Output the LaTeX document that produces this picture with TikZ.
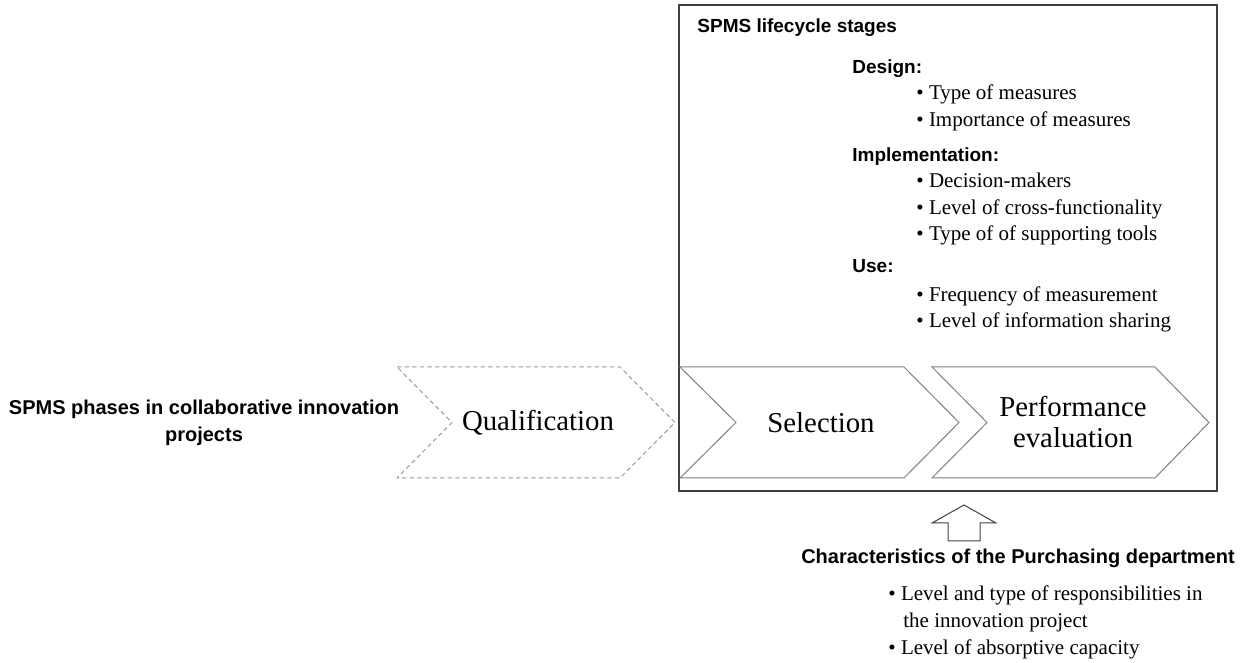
\documentclass[tikz,border=0pt]{standalone}
\usepackage{fontspec}
\setmainfont{Liberation Serif}
\newfontfamily\headfont{Liberation Sans}
\usetikzlibrary{positioning}
\definecolor{boxgray}{HTML}{404040}
\definecolor{chevgray}{HTML}{808080}
\definecolor{dashgray}{HTML}{9A9A9A}
\tikzset{%
  stage title/.style={%
    font=\headfont\bfseries\fontsize{9.5}{11}\selectfont,
    anchor=base west,
    inner sep=0pt
  }
}
\tikzset{%
  stage item/.style={%
    font=\fontsize{10.5}{12}\selectfont,
    anchor=base west,
    inner sep=0pt
  }
}
\tikzset{%
  phase/.style={%
    draw=chevgray,
    line width=0.5pt,
    line join=miter
  }
}
\tikzset{%
  phase text/.style={%
    font=\fontsize{14.4}{15.5}\selectfont,
    align=center,
    inner sep=0pt
  }
}

\begin{document}
\begin{tikzpicture}[x=0.5pt,y=-0.5pt]
  \useasboundingbox (0,0) rectangle (1244,663);
  % lifecycle box
  \node[draw=boxgray, line width=0.6pt, minimum width=269pt, minimum height=243pt, inner sep=0pt] (stages) at (948,248) {};
  \node[stage title] (title) at (697,33) {SPMS lifecycle stages};
  \node[stage title] (design) at (852,74) {Design:};
  \node[stage item] (d1) at (916,100) {• Type of measures};
  \node[stage item] (d2) at (916,127) {• Importance of measures};
  \node[stage title] (impl) at (852,162) {Implementation:};
  \node[stage item] (i1) at (916,188) {• Decision-makers};
  \node[stage item] (i2) at (916,215) {• Level of cross-functionality};
  \node[stage item] (i3) at (916,241) {• Type of of supporting tools};
  \node[stage title] (use) at (852,273) {Use:};
  \node[stage item] (u1) at (916,302) {• Frequency of measurement};
  \node[stage item] (u2) at (916,328) {• Level of information sharing};
  % phases
  \node[font=\headfont\bfseries\fontsize{10}{13.5}\selectfont, align=center, inner sep=0pt] (phases) at (204,423) {SPMS phases in collaborative innovation\\projects};
  \draw[phase, draw=dashgray, dash pattern=on 2.2pt off 1.6pt] (397,367) -- (620,367) -- (675,422.5) -- (620,478) -- (397,478) -- (452,422.5) -- cycle;
  \node[phase text] (qual) at (538,422.5) {Qualification};
  \draw[phase] (680,367) -- (904,367) -- (959,422.5) -- (904,478) -- (680,478) -- (736,422.5) -- cycle;
  \node[phase text] (sel) at (821,422.5) {Selection};
  \draw[phase] (932,367) -- (1155,367) -- (1209,422.5) -- (1155,478) -- (932,478) -- (987,422.5) -- cycle;
  \node[phase text] (perf) at (1073,422.5) {Performance\\evaluation};
  % purchasing department
  \node[font=\headfont\bfseries\fontsize{10}{12}\selectfont, inner sep=0pt] (purch) at (1018,558) {Characteristics of the Purchasing department};
  \draw[draw=boxgray, line width=0.5pt] (948,541) -- (948,523) -- (932,523) -- (964,505) -- (996,523) -- (980,523) -- (980,541) -- cycle;
  \node[stage item] (p1) at (888,601) {• Level and type of responsibilities in};
  \node[stage item] (p2) at (903,627) {the innovation project};
  \node[stage item] (p3) at (888,654) {• Level of absorptive capacity};
\end{tikzpicture}
\end{document}
